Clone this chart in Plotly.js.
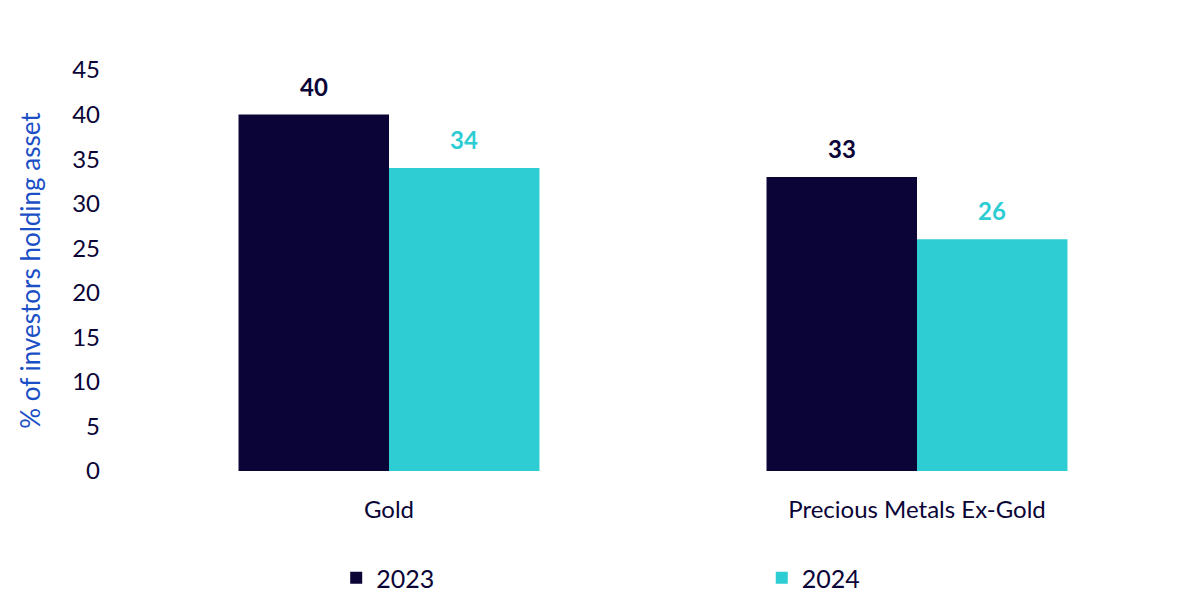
<!DOCTYPE html>
<html>
<head>
<meta charset="utf-8">
<script src="https://cdn.plot.ly/plotly-3.0.1.min.js"></script>
<style>
  html, body { margin: 0; padding: 0; background: #fff; }
  #chart { width: 1200px; height: 599px; }
</style>
</head>
<body>
<div id="chart"></div>
<script>
const categories = ['Gold', 'Precious Metals Ex-Gold'];
const values2023 = [40, 33];
const values2024 = [34, 26];
const seriesNames = ['2023', '2024'];
const yTicks = [0, 5, 10, 15, 20, 25, 30, 35, 40, 45];

const navy = '#0a0536';
const teal = '#2ecdd3';
const fontFamily = 'Lato, "Open Sans", sans-serif';

// each series gets its own legend so the two entries can sit far apart
const makeTrace = (name, values, color, legendId) => ({
    x: categories,
    y: values,
    name: name,
    type: 'bar',
    legend: legendId,
    marker: { color: color },
    hoverinfo: 'skip'
});

const data = [
    makeTrace(seriesNames[0], values2023, navy, 'legend'),
    makeTrace(seriesNames[1], values2024, teal, 'legend2')
];

// value labels sit a bit higher above the bars than plotly's own outside text
const makeLabels = (values, color, shift) => values.map((v, i) => ({
    x: categories[i],
    y: v,
    xref: 'x',
    yref: 'y',
    xshift: shift,
    yshift: 12,
    yanchor: 'bottom',
    showarrow: false,
    text: '<b>' + v + '</b>',
    font: { family: fontFamily, size: 24, color: color }
}));

const legendBase = {
    orientation: 'h',
    xanchor: 'left',
    y: -0.267, yanchor: 'middle',
    font: { family: fontFamily, size: 25, color: navy },
    itemwidth: 30,
    bgcolor: 'rgba(0,0,0,0)'
};

const layout = {
    width: 1200,
    height: 599,
    margin: { l: 125, r: 19, t: 70, b: 128, autoexpand: false },
    paper_bgcolor: '#ffffff',
    plot_bgcolor: '#ffffff',
    font: { family: fontFamily, size: 24, color: navy },
    barmode: 'group',
    bargap: 0.43,
    bargroupgap: 0,
    showlegend: true,
    legend: Object.assign({}, legendBase, { x: 0.2 }),
    legend2: Object.assign({}, legendBase, { x: 0.603 }),
    annotations: makeLabels(values2023, navy, -75).concat(makeLabels(values2024, teal, 75)),
    xaxis: {
        showline: false,
        showgrid: false,
        zeroline: false,
        ticks: '',
        ticklabelstandoff: 22,
        tickfont: { family: fontFamily, size: 24, color: navy }
    },
    yaxis: {
        range: [0, 45],
        tickvals: yTicks,
        showgrid: false,
        zeroline: false,
        showline: false,
        ticks: '',
        ticklabelstandoff: 24,
        tickfont: { family: fontFamily, size: 24, color: navy },
        title: {
            text: '% of investors holding asset',
            font: { family: fontFamily, size: 26, color: '#1b4fc6' },
            standoff: 24
        }
    }
};

Plotly.newPlot('chart', data, layout, { displayModeBar: false, staticPlot: true });
</script>
</body>
</html>
